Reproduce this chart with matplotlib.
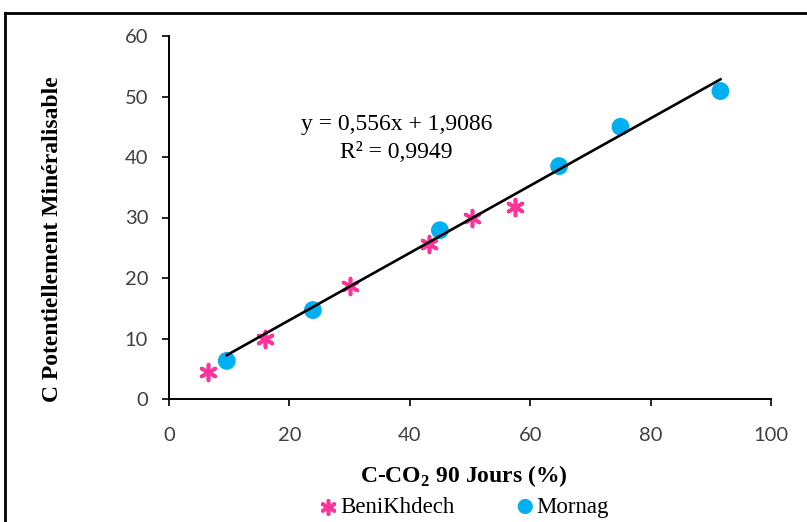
import numpy as np
import matplotlib
matplotlib.use("Agg")
import matplotlib.pyplot as plt
from matplotlib.lines import Line2D

# data
beni_x = [6.5, 15.9, 30.1, 43.2, 50.3, 57.5]
beni_y = [4.5, 9.9, 18.6, 25.6, 30.0, 31.7]
mornag_x = [9.6, 23.9, 45.0, 64.8, 75.0, 91.6]
mornag_y = [6.3, 14.7, 27.9, 38.5, 45.0, 50.9]
slope, intercept = 0.556, 1.9086
r2 = 0.9949

x_ticks = [0, 20, 40, 60, 80, 100]
y_ticks = [0, 10, 20, 30, 40, 50, 60]

pink = '#FF3399'
blue = '#00B0F0'
serif = 'Liberation Serif'

plt.rcParams['mathtext.fontset'] = 'custom'
plt.rcParams['mathtext.rm'] = serif
plt.rcParams['mathtext.bf'] = serif + ':bold'

fig = plt.figure(figsize=(8.07, 5.22), dpi=100)
ax = fig.add_axes([169/807, 123/522, 602/807, 363/522])

ax.scatter(beni_x, beni_y, marker=(6, 2, 0), s=130, color=pink, linewidths=2.6,
           label='BeniKhdech', zorder=3)
ax.scatter(mornag_x, mornag_y, marker='o', s=165, color=blue, edgecolors='none',
           label='Mornag', zorder=3)

# linear trend line over the Mornag range
xs = np.array([min(mornag_x), max(mornag_x)])
ax.plot(xs, slope*xs + intercept, color='black', lw=1.9, zorder=4)

eq = f'y = {slope:.3f}x + {intercept}'.replace('.', ',')
ax.text(0.378, 0.755, eq, transform=ax.transAxes, ha='center', va='center',
        family=serif, fontsize=17)
ax.text(0.378, 0.678, 'R² = ' + f'{r2}'.replace('.', ','), transform=ax.transAxes,
        ha='center', va='center', family=serif, fontsize=17)

ax.set_xlim(0, 100)
ax.set_ylim(0, 60)
ax.set_xticks(x_ticks)
ax.set_yticks(y_ticks)
for s in ['top', 'right']:
    ax.spines[s].set_visible(False)
for s in ['left', 'bottom']:
    ax.spines[s].set_linewidth(1.4)
ax.tick_params(direction='out', length=5, width=1.2, labelsize=14.5,
               labelcolor='#404040', labelfontfamily='Lato')
ax.tick_params(axis='y', pad=10)
ax.tick_params(axis='x', pad=15)

ax.set_xlabel('C-CO$_\\mathbf{2}$ 90 Jours (%)', family=serif, fontweight='bold',
              fontsize=17)
ax.xaxis.set_label_coords(0.489, -0.176)
ax.set_ylabel('C Potentiellement Minéralisable', family=serif, fontweight='bold',
              fontsize=17)
ax.yaxis.set_label_coords(-0.176, 0.44)

leg = fig.legend(loc='center', bbox_to_anchor=(463/807, 15/522), ncol=2,
                 frameon=False, prop={'family': serif, 'size': 16.5},
                 handletextpad=0.0, columnspacing=2.6, handlelength=1.0,
                 markerscale=0.85)

# outer frame (cut off at the right and bottom)
fig.add_artist(Line2D([5/807, 5/807], [0, 1 - 13/522], color='black', lw=2,
                      transform=fig.transFigure))
fig.add_artist(Line2D([5/807, 1], [1 - 13/522, 1 - 13/522], color='black', lw=2,
                      transform=fig.transFigure))

fig.savefig('out.png', dpi=100)
